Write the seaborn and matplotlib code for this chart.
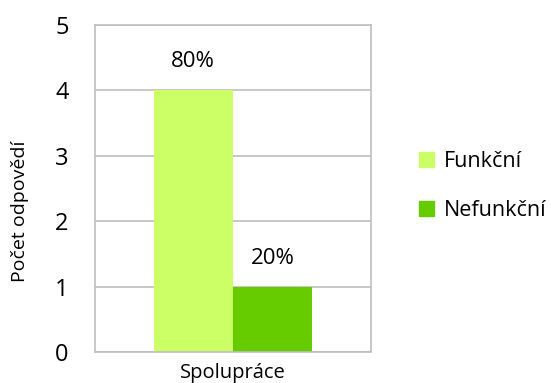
import matplotlib
matplotlib.use("Agg")
import matplotlib.pyplot as plt
import seaborn as sns
import pandas as pd

# Survey answers for the "Spolupráce" question
categories = ["Spolupráce"]
series = ["Funkční", "Nefunkční"]
counts = [4, 1]
colors = ["#CCFF66", "#66CC00"]
yticks = [0, 1, 2, 3, 4, 5]

df = pd.DataFrame({
    "kategorie": categories * len(series),
    "stav": series,
    "pocet": counts,
})

sns.set_theme(style="white")
plt.rcParams["font.family"] = ["Open Sans", "DejaVu Sans"]
plt.rcParams["text.color"] = "black"
plt.rcParams["axes.labelcolor"] = "black"
plt.rcParams["xtick.color"] = "black"
plt.rcParams["ytick.color"] = "black"

fig = plt.figure(figsize=(5.51, 3.83), dpi=100)
ax = fig.add_axes([0.1724, 0.0809, 0.5009, 0.8538])

sns.barplot(data=df, x="kategorie", y="pocet", hue="stav",
            palette=colors, width=0.576, saturation=1, ax=ax,
            legend=False, edgecolor="none", linewidth=0)

ax.set_xlim(-0.5, 0.5)
ax.set_ylim(0, 5)
ax.set_yticks(yticks)
ax.set_yticklabels([str(t) for t in yticks], fontsize=17)
ax.tick_params(axis="x", labelsize=14.5, length=0, pad=8)
ax.tick_params(axis="y", length=0, pad=19)
ax.yaxis.grid(True, color="#BFBFBF", linewidth=1.2)
ax.set_axisbelow(True)
for s in ax.spines.values():
    s.set_color("#BFBFBF")
    s.set_linewidth(1.2)

ax.set_xlabel("")
ax.set_ylabel("Počet odpovědí", fontsize=14)
ax.yaxis.set_label_coords(-0.24, 0.43)

# Percentage share of each answer above its bar
total = sum(counts)
for bar, val in zip(ax.patches, counts):
    ax.annotate(f"{val / total * 100:.0f}%",
                (bar.get_x() + bar.get_width() / 2, val),
                xytext=(0, 13), textcoords="offset points",
                ha="center", va="bottom", fontsize=16)

handles = [plt.Rectangle((0, 0), 1, 1, color=c) for c in colors]
fig.legend(handles, series, loc="center left", bbox_to_anchor=(0.745, 0.515),
           frameon=False, fontsize=15.5, handlelength=0.7, handleheight=0.7,
           handletextpad=0.45, labelspacing=1.3, borderaxespad=0)

fig.savefig("out.png", dpi=100)
